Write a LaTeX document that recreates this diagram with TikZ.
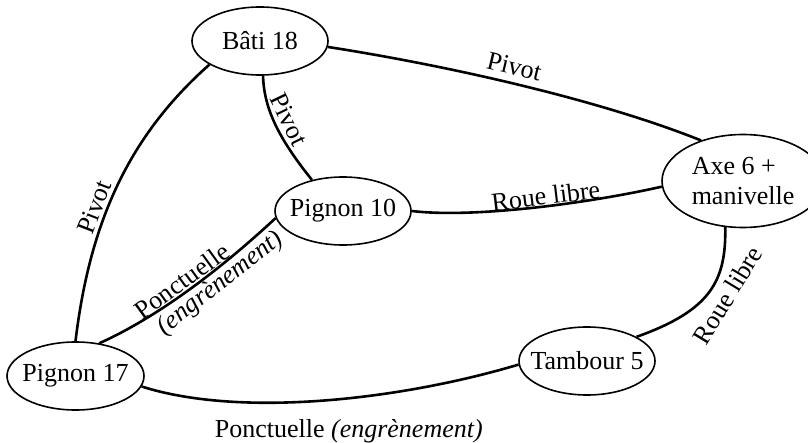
\documentclass[tikz,border=0pt]{standalone}
\usepackage{fontspec}
\setmainfont{Liberation Serif}
\usetikzlibrary{shapes.geometric}

\begin{document}
\begin{tikzpicture}[x=1pt, y=-1pt,
  part/.style={ellipse, draw, line width=1.6pt, inner sep=-40pt,
    minimum width=136pt, minimum height=68pt,
    font=\fontsize{26}{30}\selectfont},
  link/.style={line width=2.6pt},
  lbl/.style={font=\fontsize{26}{30}\selectfont, inner sep=1.5pt}]
\useasboundingbox (0,0) rectangle (808,443);

% parts of the mechanism
\node[part] (bati) at (260,41) {Bâti 18};
\node[part] (p10) at (343,211) {Pignon 10};
\node[part, minimum width=162pt, minimum height=93pt, align=left] (axe) at (743,181) {Axe 6 +\\manivelle};
\node[part] (tambour) at (587,361) {Tambour 5};
\node[part, minimum width=137pt] (p17) at (75.5,376) {Pignon 17};

% joints between parts
\draw[link] (bati.-5) .. controls (450,66) and (600,100) .. (axe.136)
  node[lbl, pos=.47, above=5pt, sloped] {Pivot};
\draw[link] (bati.-85) .. controls (264,110) and (280,140) .. (p10.135)
  node[lbl, pos=.5, above=3pt, sloped] {Pivot};
\draw[link] (bati.205) .. controls (130,135) and (90,220) .. (p17.90)
  node[lbl, pos=.6, above=1pt, sloped] {Pivot};
\draw[link] (p10.0) .. controls (470,218) and (580,205) .. (axe.184)
  node[lbl, pos=.57, above, sloped, inner sep=0pt] {Roue libre};
\draw[link] (p10.186) .. controls (223,267) and (160,316) .. (p17.54)
  node[lbl, pos=.51, above, sloped, inner sep=1pt] {Ponctuelle}
  node[lbl, pos=.38, below, sloped, inner sep=1pt] {\textit{(engrènement)}};
\draw[link] (axe.-111) .. controls (726,280) and (712,310) .. (tambour.26)
  node[lbl, pos=.45, below=5pt, sloped] {Roue libre};
\draw[link] (p17.-9) .. controls (240,418) and (400,400) .. (tambour.183)
  node[lbl, pos=.565, below=20pt, inner sep=0pt] {Ponctuelle \textit{(engrènement)}};
\end{tikzpicture}
\end{document}
